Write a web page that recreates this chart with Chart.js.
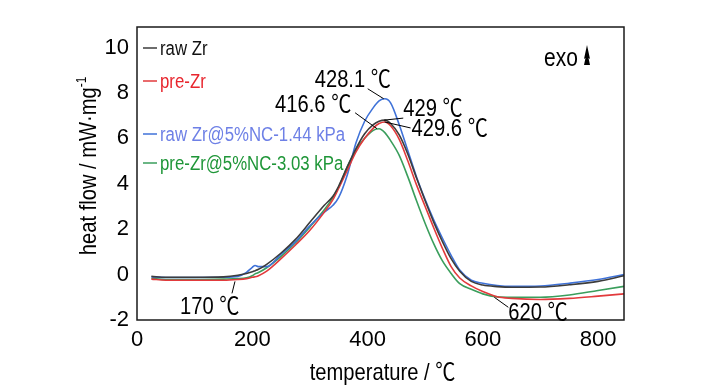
<!DOCTYPE html>
<html>
<head>
<meta charset="utf-8">
<script src="https://cdn.jsdelivr.net/npm/chart.js@4.4.1/dist/chart.umd.min.js"></script>
<style>
  html, body { margin: 0; padding: 0; background: #fff; }
</style>
</head>
<body>
<canvas id="dsc" width="728" height="390"></canvas>
<script>
// temperature grid (℃) shared by all four DSC curves
const temps = [25, 50, 100, 150, 175, 190, 200, 205, 210, 225, 250, 275, 300, 325, 340, 350, 365, 380, 395, 410,
               420, 430, 440, 455, 470, 485, 500, 515, 530, 545, 560, 580, 600, 625, 650, 700, 750, 800, 845];

// heat flow, mW/mg
const rawZr = [-0.08, -0.12, -0.12, -0.1, -0.03, 0.05, 0.12, 0.17, 0.22, 0.45, 0.95, 1.55, 2.3, 3.05, 3.45, 3.9, 4.75, 5.55, 6.2, 6.6,
               6.75, 6.8, 6.65, 6.15, 5.3, 4.25, 3.25, 2.3, 1.45, 0.7, 0.15, -0.3, -0.46, -0.53, -0.56, -0.55, -0.45, -0.3, -0.05];
const preZr = [-0.2, -0.25, -0.25, -0.25, -0.22, -0.18, -0.12, -0.1, -0.06, 0.15, 0.7, 1.3, 1.95, 2.75, 3.3, 3.8, 4.6, 5.4, 6.0, 6.45,
               6.65, 6.72, 6.55, 5.95, 5.0, 3.95, 3.0, 2.05, 1.15, 0.35, -0.15, -0.5, -0.75, -0.98, -1.05, -1.1, -1.05, -0.95, -0.85];
const rawZrNC = [-0.1, -0.13, -0.13, -0.12, -0.08, 0.1, 0.32, 0.4, 0.35, 0.35, 0.9, 1.45, 2.15, 2.75, 3.05, 3.4, 4.4, 5.8, 6.75, 7.35,
                 7.65, 7.74, 7.56, 6.6, 5.45, 4.3, 3.3, 2.4, 1.6, 0.85, 0.2, -0.25, -0.38, -0.48, -0.52, -0.5, -0.38, -0.22, 0.0];
const preZrNC = [-0.17, -0.22, -0.22, -0.2, -0.18, -0.14, -0.05, 0.03, 0.08, 0.3, 0.8, 1.4, 2.1, 2.85, 3.4, 3.85, 4.75, 5.5, 6.0, 6.35,
                 6.42, 6.25, 5.9, 5.25, 4.3, 3.25, 2.25, 1.35, 0.6, 0.05, -0.4, -0.65, -0.85, -0.98, -1.0, -1.0, -0.9, -0.7, -0.52];

const seriesNames = ['raw Zr', 'pre-Zr', 'raw Zr@5%NC-1.44 kPa', 'pre-Zr@5%NC-3.03 kPa'];

// marked temperatures and where they sit on the curves
const markTemps = [428.1, 416.6, 429, 429.6, 170, 620];
const markFlows = [7.74, 6.42, 6.8, 6.72, -0.3, -1.0];

const FONT = "'Liberation Sans', 'Noto Sans CJK SC', sans-serif";
const NARROW = 0.84;
const lineColors = ['#3c3c3c', '#e23a3c', '#3f72d8', '#3a9e5c'];
const textColors = ['#111111', '#e8262e', '#6e80e6', '#1f9638'];

const toPoints = (vals) => vals.map((v, i) => ({ x: temps[i], y: v }));

// condensed text, like the narrow face of the original figure
function narrowText(ctx, text, x, y, size, opts = {}) {
    ctx.save();
    ctx.translate(x, y);
    if (opts.rotate) ctx.rotate(opts.rotate);
    ctx.scale(NARROW, 1);
    ctx.font = size + 'px ' + FONT;
    ctx.textAlign = opts.align || 'left';
    ctx.textBaseline = opts.baseline || 'alphabetic';
    ctx.fillStyle = opts.color || '#000';
    ctx.fillText(text, 0, 0);
    ctx.restore();
}

const decor = {
    id: 'decor',
    afterDatasetsDraw(chart) {
        const { ctx, chartArea: a, scales: { x, y } } = chart;
        ctx.save();

        // frame
        ctx.strokeStyle = '#1a1a1a';
        ctx.lineWidth = 1.5;
        ctx.strokeRect(a.left, a.top, a.right - a.left, a.bottom - a.top);

        // legend in the upper left corner
        const rowY = [21, 54, 107, 136];
        seriesNames.forEach((name, i) => {
            const yy = a.top + rowY[i];
            ctx.strokeStyle = lineColors[i];
            ctx.lineWidth = 1.5;
            ctx.beginPath();
            ctx.moveTo(a.left + 6, yy);
            ctx.lineTo(a.left + 20, yy);
            ctx.stroke();
            narrowText(ctx, name, a.left + 23, yy + 1, 20, { baseline: 'middle', color: textColors[i] });
        });

        // temperature marks with leader lines
        const leader = [[-16, -10], [-22, -16], [19, -2], [26, 6], [-3, 12], [14, 10]];
        const label = [[-69, -12], [-102, -17], [19, -4], [27, 14], [-55, 33], [14, 23]];
        ctx.strokeStyle = '#000';
        ctx.lineWidth = 1;
        markTemps.forEach((t, i) => {
            const px = x.getPixelForValue(t);
            const py = y.getPixelForValue(markFlows[i]);
            ctx.beginPath();
            ctx.moveTo(px, py);
            ctx.lineTo(px + leader[i][0], py + leader[i][1]);
            ctx.stroke();
            narrowText(ctx, t + ' ℃', px + label[i][0], py + label[i][1], 24);
        });

        // exo marker
        narrowText(ctx, 'exo', a.right - 80, a.top + 39, 25);
        const ax = a.right - 37, ay = a.top + 28;
        ctx.fillStyle = '#000';
        ctx.beginPath();
        ctx.moveTo(ax, ay - 10);
        ctx.lineTo(ax + 3, ay + 4);
        ctx.lineTo(ax + 1.5, ay + 3);
        ctx.lineTo(ax + 3, ay + 10);
        ctx.lineTo(ax - 3, ay + 10);
        ctx.lineTo(ax - 1.5, ay + 3);
        ctx.lineTo(ax - 3, ay + 4);
        ctx.closePath();
        ctx.fill();

        // axis titles
        narrowText(ctx, 'temperature / ℃', (a.left + a.right) / 2 + 2, 373, 24, { align: 'center', baseline: 'middle' });
        const yMid = 166, yTitle = 'heat flow / mW·mg';
        ctx.save();
        ctx.font = '24px ' + FONT;
        const tw = ctx.measureText(yTitle).width * NARROW;
        ctx.font = '14px ' + FONT;
        const sw = ctx.measureText('-1').width * NARROW;
        ctx.restore();
        const start = yMid + (tw + sw) / 2;
        narrowText(ctx, yTitle, 96, start, 24, { rotate: -Math.PI / 2 });
        narrowText(ctx, '-1', 86, start - tw, 14, { rotate: -Math.PI / 2 });

        ctx.restore();
    }
};

const data = {
    datasets: [rawZr, preZr, rawZrNC, preZrNC].map((vals, i) => ({
        label: seriesNames[i],
        data: toPoints(vals),
        borderColor: lineColors[i],
        borderWidth: 1.6,
        pointRadius: 0,
        fill: false,
        cubicInterpolationMode: 'monotone'
    }))
};

const config = {
    type: 'line',
    data: data,
    options: {
        responsive: false,
        animation: false,
        layout: {
            padding: { left: 79, top: 27, right: 104, bottom: 0 }
        },
        plugins: {
            legend: { display: false },
            tooltip: { enabled: false }
        },
        scales: {
            x: {
                type: 'linear',
                min: 0,
                max: 845,
                grid: { display: false, drawTicks: false },
                border: { display: false },
                ticks: {
                    stepSize: 200,
                    includeBounds: false,
                    padding: 7,
                    color: '#000',
                    font: { family: FONT, size: 22 }
                },
                afterFit(scale) { scale.height = 70; }
            },
            y: {
                min: -2,
                max: 10.9,
                grid: { display: false, drawTicks: false },
                border: { display: false },
                ticks: {
                    stepSize: 2,
                    includeBounds: false,
                    padding: 8,
                    color: '#000',
                    font: { family: FONT, size: 22 }
                },
                afterFit(scale) { scale.width = 58; }
            }
        }
    },
    plugins: [decor]
};

new Chart(document.getElementById('dsc').getContext('2d'), config);
</script>
</body>
</html>
